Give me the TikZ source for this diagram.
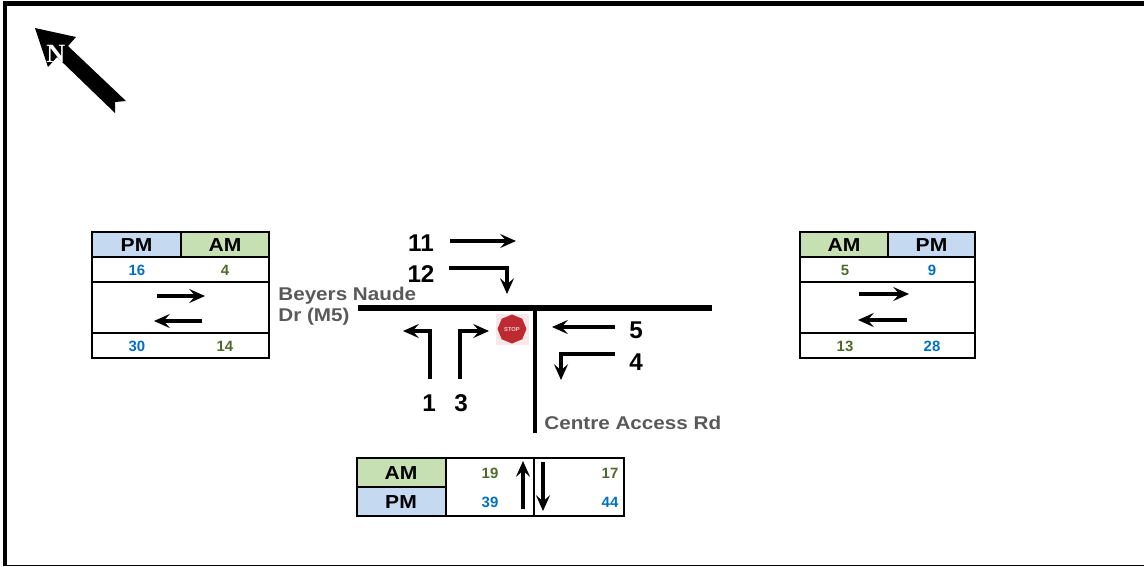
\documentclass[tikz,border=0pt]{standalone}
\usepackage{fontspec}
\setmainfont{Liberation Sans}
\newfontfamily\nordschrift{Liberation Serif}
\newfontfamily\breitschrift[FakeStretch=1.12]{Liberation Sans}
\usetikzlibrary{positioning,shapes.geometric,arrows.meta}

\begin{document}
\begin{tikzpicture}[x=0.02cm,y=-0.02cm,
		nr/.style={font=\bfseries\fontsize{13.8}{14}\selectfont},
		strasse/.style={font=\breitschrift\bfseries\fontsize{10.5}{12.2}\selectfont,text=dunkelgrau,anchor=west,align=left,inner sep=0pt},
		zahl/.style={font=\bfseries\fontsize{8.5}{10}\selectfont},
		kopf/.style={font=\breitschrift\bfseries\fontsize{10.7}{12}\selectfont},
		bew/.style={-{Stealth[length=9pt,width=8pt,inset=3.5pt]},line width=1.8pt},
		tab/.style={line width=0.9pt}]

		\definecolor{blau}{HTML}{0070C0}
		\definecolor{gruen}{HTML}{4F6B2A}
		\definecolor{hellblau}{HTML}{C5D9F1}
		\definecolor{hellgruen}{HTML}{C6E0B4}
		\definecolor{dunkelgrau}{HTML}{595959}
		\definecolor{stoppRot}{HTML}{BE2A32}
		\definecolor{rosa}{HTML}{F6E8E8}

		\useasboundingbox (0,0) rectangle (1144,566);

		% Rahmen
		\draw[line width=2.6pt] (5,566) -- (5,3.5) -- (1144,3.5);
		\draw[line width=0.6pt] (5,565.5) -- (1144,565.5);

		% Nordpfeil
		\fill (35,28) -- (76,37) -- (68,46) -- (126,101) -- (115,102) -- (115,113) -- (57,57) -- (48,67) -- cycle;
		\node[text=white,font=\nordschrift\bfseries\fontsize{15}{15}\selectfont] (nord) at (56,54) {N};

		% Strassen
		\coordinate (hw) at (358,308);
		\coordinate (ho) at (712,308);
		\coordinate (vo) at (535,308);
		\coordinate (vu) at (535,433);
		\draw[line width=3pt] (hw) -- (ho);
		\draw[line width=2.8pt] (vo) -- (vu);
		\node[strasse] (beyers) at (278,306) {Beyers Naude\\Dr (M5)};
		\node[strasse] (centre) at (544,423) {Centre Access Rd};

		% Stoppschild
		\fill[rosa] (496,314) rectangle (529,345);
		\node[regular polygon,regular polygon sides=8,rotate=22.5,fill=stoppRot,minimum size=0.58cm,inner sep=0pt] (stopp) at (512,329) {};
		\node[text=white!75!stoppRot,font=\bfseries\fontsize{3.3}{4}\selectfont,inner sep=0pt] (stopptext) at (stopp.center) {STOP};

		% Bewegungen
		\node[nr] (n11) at (421,243) {11};
		\node[nr] (n12) at (421,274) {12};
		\node[nr] (n5) at (636,330) {5};
		\node[nr] (n4) at (636,362) {4};
		\node[nr] (n1) at (429,403) {1};
		\node[nr] (n3) at (461,403) {3};

		\coordinate (b11a) at (450,241);
		\coordinate (b11e) at (516,241);
		\coordinate (b12a) at (449,268);
		\coordinate (b12e) at (507,294);
		\coordinate (b1a) at (430,379);
		\coordinate (b1e) at (403,331);
		\coordinate (b3a) at (460,379);
		\coordinate (b3e) at (489,331);
		\coordinate (b5a) at (615,327);
		\coordinate (b5e) at (552,327);
		\coordinate (b4a) at (615,354);
		\coordinate (b4e) at (561,380);

		\draw[bew] (b11a) -- (b11e);
		\draw[bew] (b12a) -| (b12e);
		\draw[bew] (b1a) |- (b1e);
		\draw[bew] (b3a) |- (b3e);
		\draw[bew] (b5a) -- (b5e);
		\draw[bew] (b4a) -| (b4e);

		% Tabelle links
		\fill[hellblau] (92,232) rectangle (181,257);
		\fill[hellgruen] (181,232) rectangle (269,257);
		\draw[tab] (92,232) rectangle (269,358);
		\foreach \y in {257,282,333} \draw[tab] (92,\y) -- (269,\y);
		\draw[tab] (181,232) -- (181,257);
		\node[kopf] (lpm) at (136.5,245) {PM};
		\node[kopf] (lam) at (225,245) {AM};
		\node[zahl,text=blau] (l16) at (137,270) {16};
		\node[zahl,text=gruen] (l4) at (225,270) {4};
		\node[zahl,text=blau] (l30) at (137,346) {30};
		\node[zahl,text=gruen] (l14) at (225,346) {14};
		\coordinate (lra) at (157,296);
		\coordinate (lre) at (205,296);
		\coordinate (lla) at (202,321);
		\coordinate (lle) at (154,321);
		\draw[bew] (lra) -- (lre);
		\draw[bew] (lla) -- (lle);

		% Tabelle rechts
		\fill[hellgruen] (800,232) rectangle (888,257);
		\fill[hellblau] (888,232) rectangle (975,257);
		\draw[tab] (800,232) rectangle (975,358);
		\foreach \y in {257,282,333} \draw[tab] (800,\y) -- (975,\y);
		\draw[tab] (888,232) -- (888,257);
		\node[kopf] (ram) at (844,245) {AM};
		\node[kopf] (rpm) at (931.5,245) {PM};
		\node[zahl,text=gruen] (r5) at (845,270) {5};
		\node[zahl,text=blau] (r9) at (932,270) {9};
		\node[zahl,text=gruen] (r13) at (845,346) {13};
		\node[zahl,text=blau] (r28) at (932,346) {28};
		\coordinate (rra) at (859,294);
		\coordinate (rre) at (909,294);
		\coordinate (rla) at (907,320);
		\coordinate (rle) at (858,320);
		\draw[bew] (rra) -- (rre);
		\draw[bew] (rla) -- (rle);

		% Tabelle unten
		\fill[hellgruen] (357,458) rectangle (446,487);
		\fill[hellblau] (357,487) rectangle (446,516);
		\draw[tab] (357,458) rectangle (624,516);
		\draw[tab] (357,487) -- (446,487);
		\foreach \x in {446,534} \draw[tab] (\x,458) -- (\x,516);
		\node[kopf] (uam) at (401,473) {AM};
		\node[kopf] (upm) at (401,502) {PM};
		\node[zahl,text=gruen] (u19) at (490,473) {19};
		\node[zahl,text=blau] (u39) at (490,502) {39};
		\node[zahl,text=gruen] (u17) at (610,473) {17};
		\node[zahl,text=blau] (u44) at (610,502) {44};
		\coordinate (uha) at (523,509);
		\coordinate (uhe) at (523,461);
		\coordinate (ura) at (543,462);
		\coordinate (ure) at (543,511);
		\draw[bew] (uha) -- (uhe);
		\draw[bew] (ura) -- (ure);

	\end{tikzpicture}
\end{document}
